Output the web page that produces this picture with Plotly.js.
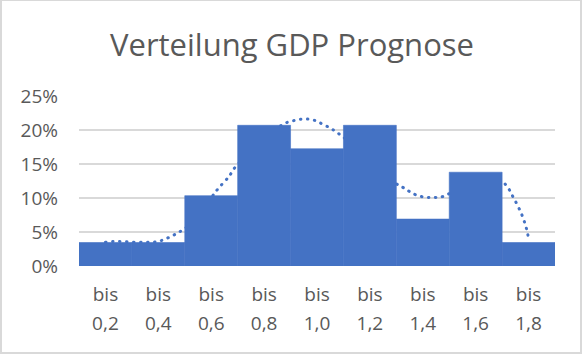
<!DOCTYPE html>
<html>
<head>
<meta charset="utf-8">
<script src="https://cdn.plot.ly/plotly-3.0.1.min.js"></script>
<style>
  html, body { margin: 0; padding: 0; background: #ffffff; overflow: hidden; }
  #wrap { position: relative; width: 584px; height: 356px; overflow: hidden; }
  #chart { position: absolute; left: 0; top: 0; width: 584px; height: 356px; }
  #frame { position: absolute; left: 0px; top: -1px; width: 578px; height: 351px; border: 2px solid #d9d9d9; pointer-events: none; }
  .js-line { stroke-linecap: round; }
</style>
</head>
<body>
<div id="wrap">
  <div id="chart"></div>
  <div id="frame"></div>
</div>
<script>
// Categories (upper bin limits) and share of forecasts per bin
const binPrefix = 'bis';
const categories = ['0,2', '0,4', '0,6', '0,8', '1,0', '1,2', '1,4', '1,6', '1,8'];
const shares = [0.0345, 0.0345, 0.1034, 0.2069, 0.1724, 0.2069, 0.0690, 0.1379, 0.0345];

// Dotted trend line (position in category units, share in %)
const trendPos = [1.00, 1.15, 1.28, 1.42, 1.56, 1.70, 1.83, 1.96, 2.08, 2.20, 2.33, 2.44, 2.60, 2.80, 3.00, 3.07, 3.19, 3.34, 3.42, 3.60, 3.80, 4.00, 4.20, 4.43, 4.57, 4.70, 4.83, 4.96, 5.07, 5.20, 5.31, 5.42, 5.60, 5.80, 6.00, 6.20, 6.40, 6.57, 6.68, 6.80, 6.93, 7.06, 7.19, 7.33, 7.46, 7.60, 7.80, 8.00, 8.20, 8.35, 8.45, 8.55, 8.63, 8.69, 8.76, 8.83, 8.88, 8.93, 8.97, 9.00];
const trendPct = [3.5, 3.6, 3.6, 3.55, 3.5, 3.5, 3.5, 3.55, 3.8, 4.2, 4.7, 5.2, 6.1, 7.9, 10.0, 10.8, 11.9, 13.2, 14.2, 15.8, 17.5, 18.9, 20.1, 21.1, 21.4, 21.6, 21.6, 21.4, 21.0, 20.5, 20.0, 19.4, 18.3, 16.8, 15.2, 13.7, 12.5, 11.8, 11.3, 10.7, 10.3, 10.1, 10.1, 10.1, 10.5, 11.0, 12.0, 12.8, 13.2, 13.1, 12.7, 12.1, 11.3, 10.4, 9.4, 8.3, 7.4, 6.3, 5.2, 4.1];

const positions = categories.map((c, i) => i + 1);
const barColor = '#4472C4';
const textColor = '#595959';
const fontFam = '"Open Sans", "Noto Sans", sans-serif';

const trend = {
  type: 'scatter', mode: 'lines',
  x: trendPos, y: trendPct.map(v => v / 100),
  xaxis: 'x', yaxis: 'y',
  line: { color: barColor, width: 3, dash: '0.5px,6.5px', shape: 'spline', smoothing: 0.8 },
  hoverinfo: 'skip', showlegend: false
};

const bars = {
  type: 'bar',
  x: positions, y: shares, width: 1,
  xaxis: 'x2', yaxis: 'y2',
  marker: { color: barColor, line: { width: 0.6, color: barColor } },
  showlegend: false
};

const tickFont = { family: fontFam, size: 19, color: textColor };

const layout = {
  width: 584, height: 356,
  margin: { l: 79, r: 29, t: 96, b: 90 },
  paper_bgcolor: '#ffffff', plot_bgcolor: 'rgba(0,0,0,0)',
  showlegend: false,
  title: {
    text: 'Verteilung GDP Prognose',
    font: { family: fontFam, size: 31, color: textColor },
    x: 0.5, xanchor: 'center',
    yref: 'container', y: 1 - 45 / 356, yanchor: 'middle'
  },
  xaxis: {
    type: 'linear', range: [0.5, 9.5],
    tickmode: 'array', tickvals: positions, ticktext: categories.map(() => binPrefix),
    showgrid: false, zeroline: false, showline: false, ticks: '',
    tickfont: tickFont, ticklabelstandoff: 15, fixedrange: true
  },
  xaxis2: {
    type: 'linear', range: [0.5, 9.5], overlaying: 'x', anchor: 'y2', side: 'bottom',
    tickmode: 'array', tickvals: positions, ticktext: categories,
    showgrid: false, zeroline: false, showline: false, ticks: '',
    tickfont: tickFont, ticklabelstandoff: 44, fixedrange: true
  },
  yaxis: {
    range: [0, 0.25], dtick: 0.05, tickformat: '.0%',
    showgrid: true, gridcolor: '#d9d9d9', gridwidth: 2,
    zeroline: false, showline: false, ticks: '',
    tickfont: tickFont, ticklabelstandoff: 20, fixedrange: true
  },
  yaxis2: {
    range: [0, 0.25], overlaying: 'y', anchor: 'x2',
    showgrid: false, zeroline: false, showline: false, showticklabels: false, ticks: '', fixedrange: true
  }
};

Plotly.newPlot('chart', [trend, bars], layout, { displayModeBar: false, staticPlot: true });
</script>
</body>
</html>
